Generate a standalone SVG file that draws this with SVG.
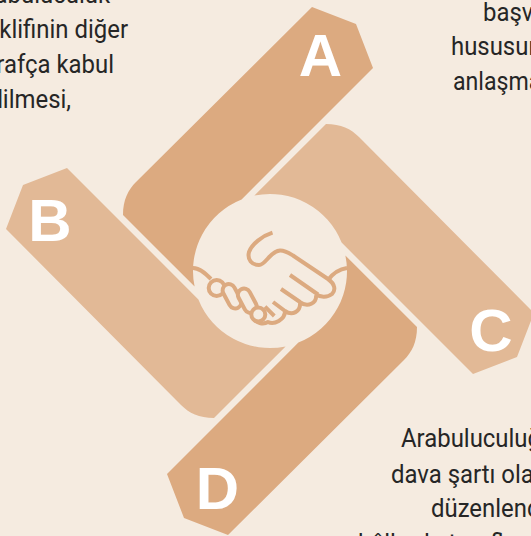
<svg xmlns="http://www.w3.org/2000/svg" width="531" height="536" viewBox="0 0 531 536">
<style>
.dark{fill:#DCAA80}.light{fill:#E2B996}
.l{font-family:"Liberation Sans",sans-serif;font-weight:700;font-size:60px;fill:#fff;text-anchor:middle}
.t{font-family:"Roboto","Liberation Sans",sans-serif;font-size:26px;fill:#262626}
.h{fill:none;stroke:#DCAA80;stroke-width:4;stroke-linecap:butt;stroke-linejoin:round}
.f{fill:#F5EBE0}
</style>
<defs><path id="band" d="M312 7L356 24L373 68L241.6 199.4A77 77 0 0 0 194.6 286.6L123 215C123 200 128 190 136 182Z"/></defs>
<rect width="531" height="536" fill="#F5EBE0"/>
<g id="node-a"><use href="#band" class="dark"/><text class="l" x="320.500" y="76">A</text></g>
<g id="node-b"><use href="#band" class="light" transform="rotate(270 270 271)"/><text class="l" x="50" y="241">B</text></g>
<g id="node-c"><use href="#band" class="light" transform="rotate(90 270 271)"/><text class="l" x="491" y="351">C</text></g>
<g id="node-d"><use href="#band" class="dark" transform="rotate(180 270 271)"/><text class="l" x="217.500" y="509">D</text></g>
<g id="handshake">
<path class="h" d="M272.500 232.700C262 236 252 244 249 252C247 260 252 265 259 265C266 265 270 251 280 250.500C285 250.300 289 253 293 255.500L328 279C335 284 336 290 332 294C327 298 320 297 316 294.500"/>
<path class="h" d="M290 275L318 294.500M316 295C317 303 308 308 299.500 302M281 289L300 302M300 302C301 312 292 316 285 311M273 302L285 311M285 311C285 320 274 325 268 322C263 325 256 323 253 318M265 306.700L274.300 316"/>
<path class="h" d="M328 280C334 272 340 269 347 268"/>
<path class="h" d="M193 268C200 268 206 274 211 279"/>
<circle class="h f" cx="216.700" cy="288" r="8"/>
<rect class="h f" x="219" y="290" width="26" height="12.500" rx="6.250" transform="rotate(62 232 296.250)"/>
<rect class="h f" x="234.300" y="294.500" width="26" height="12.500" rx="6.250" transform="rotate(62 247.300 300.750)"/>
<circle class="h f" cx="258.300" cy="314.500" r="7"/>
</g>
<g id="texts">
<g transform="translate(110 3) scale(.92 1)"><text class="t" text-anchor="end">Arabuluculuk</text></g>
<g transform="translate(128 38) scale(.92 1)"><text class="t" text-anchor="end">teklifinin diğer</text></g>
<g transform="translate(114 73) scale(.92 1)"><text class="t" text-anchor="end">tarafça kabul</text></g>
<g transform="translate(71 108) scale(.92 1)"><text class="t" text-anchor="end">edilmesi,</text></g>
<g transform="translate(483 21) scale(.92 1)"><text class="t">başvuru</text></g>
<g transform="translate(451 55) scale(.92 1)"><text class="t">hususunda</text></g>
<g transform="translate(453 90) scale(.89 1)"><text class="t">anlaşma</text></g>
<g transform="translate(401 447) scale(.92 1)"><text class="t">Arabuluculuğa</text></g>
<g transform="translate(391 483) scale(.92 1)"><text class="t">dava şartı olarak</text></g>
<g transform="translate(431 517) scale(.92 1)"><text class="t">düzenlendiği</text></g>
<g transform="translate(358 552) scale(.92 1)"><text class="t">hâllerde taraflar</text></g>
</g>
</svg>
